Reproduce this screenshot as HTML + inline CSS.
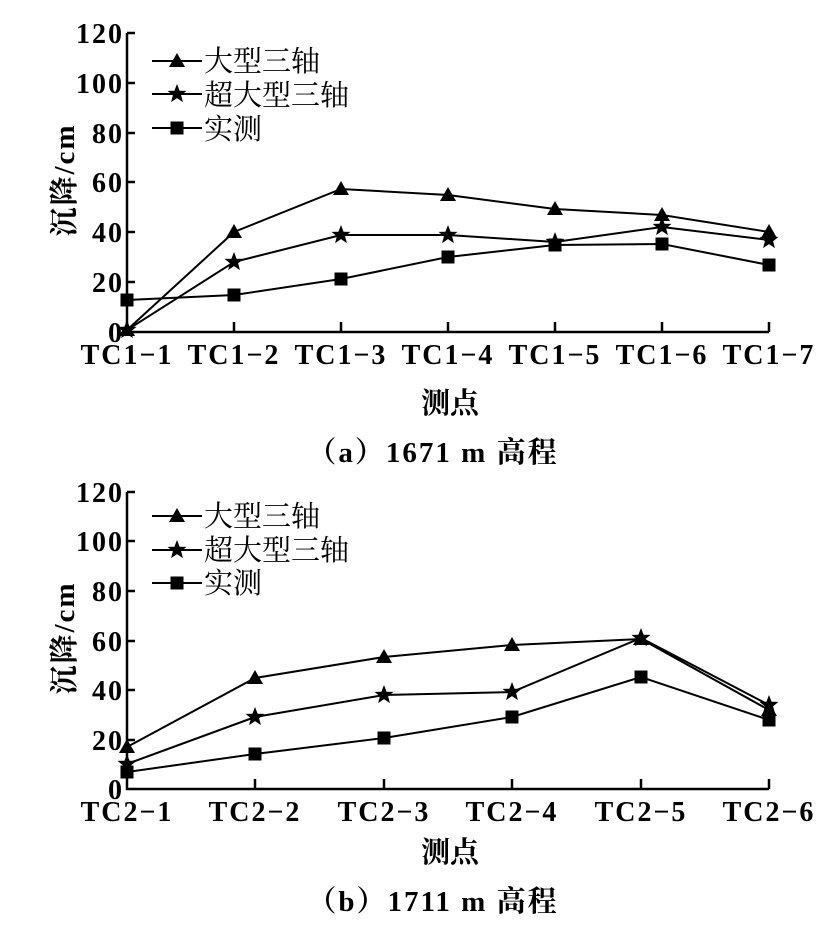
<!DOCTYPE html>
<html><head><meta charset="utf-8"><style>
body{margin:0;background:#fff}
svg text{font-family:"Liberation Serif","Noto Serif CJK SC",serif;fill:#000}
.n{font-weight:bold;font-size:28px}
.t{font-weight:bold;font-size:28px;letter-spacing:2px}
.c{font-family:"Noto Serif CJK SC","Noto Sans CJK SC",serif;font-size:29px}
.h{font-weight:bold;font-size:29px}
</style></head><body>
<svg width="835" height="926" viewBox="0 0 835 926" xmlns="http://www.w3.org/2000/svg">
<defs>
<path id="tri" d="M0,-8 L8,6 L-8,6 Z"/>
<path id="star" d="M0,-10 L2.6,-3.2 L9.5,-3.1 L4.1,1.3 L5.9,8.1 L0,4.1 L-5.9,8.1 L-4.1,1.3 L-9.5,-3.1 L-2.6,-3.2 Z"/>
<rect id="sq" x="-6.5" y="-6.5" width="13" height="13"/>
</defs>
<g stroke="#000" stroke-width="2.5" fill="none">
<path d="M127,33 V332 H769"/>
<path d="M127,33 h8 M127,83 h8 M127,133 h8 M127,182 h8 M127,232 h8 M127,282 h8"/>
<path d="M234,332 v-10 M341,332 v-10 M448,332 v-10 M555,332 v-10 M662,332 v-10 M769,332 v-10"/>
<path d="M127,492 V789 H769"/>
<path d="M127,492 h8 M127,541 h8 M127,591 h8 M127,641 h8 M127,690 h8 M127,740 h8"/>
<path d="M255,789 v-10 M384,789 v-10 M512,789 v-10 M641,789 v-10 M769,789 v-10"/>
</g>
<g stroke="#000" stroke-width="2" fill="none">
<polyline points="127,330 234,232 341,189 448,195 555,209 662,215 769,232"/>
<polyline points="127,330 234,262 341,235 448,235 555,242 662,227 769,240"/>
<polyline points="127,300 234,295 341,279 448,257 555,245 662,244 769,265"/>
<polyline points="127,747 255,678 384,657 512,645 641,639 769,710"/>
<polyline points="127,764 255,717 384,695 512,692 641,638 769,705"/>
<polyline points="127,772 255,754 384,738 512,717 641,677 769,720"/>
<path d="M152,61 h50 M152,94 h50 M152,128 h50 M152,516 h50 M152,550 h50 M152,583 h50"/>
</g>
<g fill="#000">
<use href="#tri" x="127" y="330"/><use href="#tri" x="234" y="232"/><use href="#tri" x="341" y="189"/><use href="#tri" x="448" y="195"/><use href="#tri" x="555" y="209"/><use href="#tri" x="662" y="215"/><use href="#tri" x="769" y="232"/>
<use href="#star" x="127" y="330"/><use href="#star" x="234" y="262"/><use href="#star" x="341" y="235"/><use href="#star" x="448" y="235"/><use href="#star" x="555" y="242"/><use href="#star" x="662" y="227"/><use href="#star" x="769" y="240"/>
<use href="#sq" x="127" y="300"/><use href="#sq" x="234" y="295"/><use href="#sq" x="341" y="279"/><use href="#sq" x="448" y="257"/><use href="#sq" x="555" y="245"/><use href="#sq" x="662" y="244"/><use href="#sq" x="769" y="265"/>
<use href="#tri" x="127" y="747"/><use href="#tri" x="255" y="678"/><use href="#tri" x="384" y="657"/><use href="#tri" x="512" y="645"/><use href="#tri" x="641" y="639"/><use href="#tri" x="769" y="710"/>
<use href="#star" x="127" y="764"/><use href="#star" x="255" y="717"/><use href="#star" x="384" y="695"/><use href="#star" x="512" y="692"/><use href="#star" x="641" y="638"/><use href="#star" x="769" y="705"/>
<use href="#sq" x="127" y="772"/><use href="#sq" x="255" y="754"/><use href="#sq" x="384" y="738"/><use href="#sq" x="512" y="717"/><use href="#sq" x="641" y="677"/><use href="#sq" x="769" y="720"/>
<use href="#tri" x="177" y="61"/><use href="#star" x="177" y="94"/><use href="#sq" x="177" y="128"/>
<use href="#tri" x="177" y="516"/><use href="#star" x="177" y="550"/><use href="#sq" x="177" y="583"/>
</g>
<g class="c">
<text x="204" y="71">大型三轴</text><text x="204" y="105">超大型三轴</text><text x="204" y="139">实测</text>
<text x="204" y="526">大型三轴</text><text x="204" y="560">超大型三轴</text><text x="204" y="593">实测</text>
</g>
<g class="t" text-anchor="end">
<text x="124" y="43">120</text><text x="124" y="93">100</text><text x="124" y="143">80</text><text x="124" y="192">60</text><text x="124" y="242">40</text><text x="124" y="292">20</text><text x="124" y="342">0</text>
<text x="124" y="502">120</text><text x="124" y="551">100</text><text x="124" y="601">80</text><text x="124" y="651">60</text><text x="124" y="700">40</text><text x="124" y="750">20</text><text x="124" y="799">0</text>
</g>
<g class="t" text-anchor="middle">
<text x="127" y="364">TC1−1</text><text x="234" y="364">TC1−2</text><text x="341" y="364">TC1−3</text><text x="448" y="364">TC1−4</text><text x="555" y="364">TC1−5</text><text x="662" y="364">TC1−6</text><text x="769" y="364">TC1−7</text>
<text x="127" y="821">TC2−1</text><text x="255" y="821">TC2−2</text><text x="384" y="821">TC2−3</text><text x="512" y="821">TC2−4</text><text x="641" y="821">TC2−5</text><text x="769" y="821">TC2−6</text>
</g>
<text class="h" text-anchor="middle" x="450" y="413">测点</text>
<text class="h" text-anchor="middle" x="450" y="862">测点</text>
<text class="h" text-anchor="middle" x="433" y="462" style="letter-spacing:2px">（a）1671 m 高程</text>
<text class="h" text-anchor="middle" x="433" y="911" style="letter-spacing:2px">（b）1711 m 高程</text>
<text class="h" text-anchor="middle" transform="translate(74,180) rotate(-90)" style="letter-spacing:2px">沉降/cm</text>
<text class="h" text-anchor="middle" transform="translate(74,638) rotate(-90)" style="letter-spacing:2px">沉降/cm</text>
</svg>
</body></html>
